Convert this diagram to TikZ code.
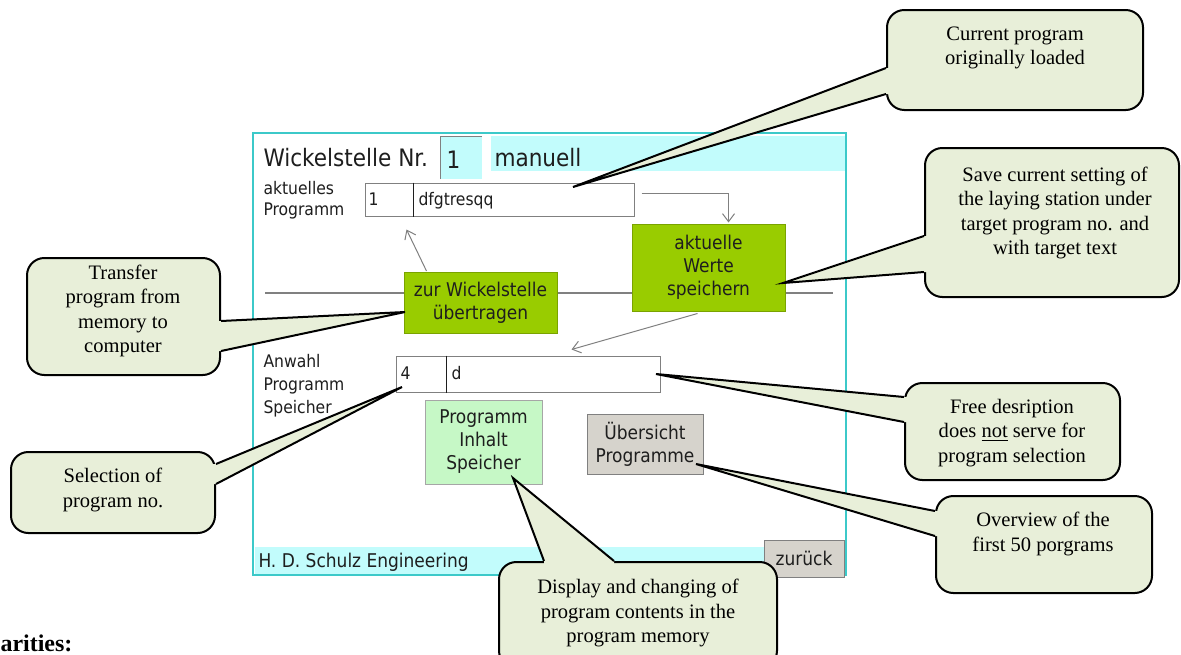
\documentclass[tikz,border=0pt]{standalone}
\usepackage{fontspec}
\setmainfont{Liberation Serif}
\newfontfamily\uifont{DejaVu Sans Condensed}
\usetikzlibrary{positioning,calc,arrows.meta}

\definecolor{calloutfill}{HTML}{E8EFD9}
\definecolor{panelteal}{HTML}{3CC9C9}
\definecolor{bandcyan}{HTML}{C2FCFC}
\definecolor{btngreen}{HTML}{99CC00}
\definecolor{btnlight}{HTML}{C6F8C6}
\definecolor{btngray}{HTML}{D6D3CC}
\definecolor{uigray}{HTML}{808080}
\definecolor{uiink}{HTML}{1E1E1E}

\tikzset{every picture/.style={line width=0.75pt}}
\tikzset{
  boxsize/.style 2 args={minimum width=#1*0.75pt, minimum height=#2*0.75pt},
  callbox/.style={draw=black, line width=1.5pt, fill=calloutfill, rounded corners=13pt, inner sep=0pt},
  calltail/.style={draw=black, line width=1.5pt, line join=miter},
  calltext/.style={font=\fontsize{15.4}{18.4}\selectfont, align=center, inner sep=0pt},
  titletext/.style={font=\uifont\fontsize{18}{21}\selectfont, text=uiink, inner sep=0pt},
  uitext/.style={font=\uifont\fontsize{13}{17}\selectfont, text=uiink, inner sep=0pt},
  field/.style={draw=uigray, fill=white, line width=0.75pt, inner sep=0pt},
  fielddiv/.style={draw=uiink, line width=1.2pt},
  uibtn/.style={align=center, inner sep=0pt, text=uiink, font=\uifont\fontsize{14.2}{17.25}\selectfont},
  greenbtn/.style={uibtn, fill=btngreen, draw=btngreen!80!black},
  lightbtn/.style={uibtn, fill=btnlight, draw=uigray!70},
  graybtn/.style={uibtn, fill=btngray, draw=uigray},
  sepline/.style={draw=uigray, line width=1.5pt},
  flowarrow/.style={draw=uigray, line width=0.75pt, -{Straight Barb[length=6pt,width=9pt]}},
}

\begin{document}
\begin{tikzpicture}[x=0.75pt,y=0.75pt,yscale=-1,xscale=1]
	\clip (0,0) rectangle (1181,654);

	%Screen panel
	\node[boxsize={593}{442}, draw=panelteal, line width=1.5pt, fill=white] (panel) at (549.5,354) {};
	\fill[bandcyan] (491,136) rectangle (845,171);
	\fill[bandcyan] (440,136) rectangle (482,179);
	\draw[uigray] (440,179) -- (440,136) -- (482,136);
	\fill[bandcyan] (255,547) rectangle (845,574);

	% Header texts
	\node[titletext, anchor=base west] (title) at (263,166) {Wickelstelle Nr.};
	\node[titletext, anchor=base west] (stationno) at (446,168) {1};
	\node[titletext, anchor=base west] (modelbl) at (494,166) {manuell};
	\node[uitext, anchor=base west] (aktlbl) at (263,194) {aktuelles};
	\node[uitext, anchor=base west] (proglbl) at (263,215) {Programm};

	%Current program field
	\node[field, boxsize={269}{33}] (progbox) at (499.5,199.5) {};
	\draw[fielddiv] ($(progbox.north west)+(49,0)$) -- ($(progbox.south west)+(49,0)$);
	\node[uitext, anchor=base west] (prognr) at (368,205) {1};
	\node[uitext, anchor=base west] (progname) at (418,205) {dfgtresqq};

	%Separator
	\draw[sepline] (265,293) -- (833,293);

	%Buttons
	\node[greenbtn, boxsize={153}{87}] (savebtn) at (708.5,267.5) {aktuelle\\Werte\\speichern};
	\node[greenbtn, boxsize={153}{61}] (loadbtn) at (480.5,303) {zur Wickelstelle\\übertragen};

	%Selection field
	\node[uitext, anchor=base west] (anwahllbl) at (263,367) {Anwahl};
	\node[uitext, anchor=base west] (selproglbl) at (263,390) {Programm};
	\node[uitext, anchor=base west] (speicherlbl) at (263,413) {Speicher};
	\node[field, boxsize={264}{36}] (selbox) at (528,374) {};
	\draw[fielddiv] ($(selbox.north west)+(51,0)$) -- ($(selbox.south west)+(51,0)$);
	\node[uitext, anchor=base west] (selnr) at (400,379) {4};
	\node[uitext, anchor=base west] (seltext) at (451,379) {d};

	\node[lightbtn, boxsize={117}{84}] (memorybtn) at (483.5,442) {Programm\\Inhalt\\Speicher};
	\node[graybtn, boxsize={116}{60}] (overviewbtn) at (645,444) {Übersicht\\Programme};

	%Footer
	\node[uitext, font=\uifont\fontsize{14.2}{17}\selectfont, anchor=base west] (footer) at (258,567) {H. D. Schulz Engineering};
	\node[graybtn, boxsize={80}{37}] (backbtn) at (804,558.5) {zurück};

	%Flow arrows
	\draw[flowarrow] ($(progbox.north east)+(7,11)$) -| ($(savebtn.north)+(20,-1)$);
	\draw[flowarrow] ($(loadbtn.north west)+(23,-1)$) -- ($(progbox.south west)+(42,13)$);
	\draw[flowarrow] ($(savebtn.south)+(-11,2)$) -- ($(selbox.north west)+(176,-6)$);

	%Callout boxes
	\node[callbox, boxsize={256}{100}] (curcall) at (1015,60) {};
	\node[callbox, boxsize={254}{149}] (savecall) at (1052,222.5) {};
	\node[callbox, boxsize={193}{117}] (xfercall) at (123.5,316.5) {};
	\node[callbox, boxsize={204}{81}] (selcall) at (113,492.5) {};
	\node[callbox, boxsize={215}{97}] (freecall) at (1012.5,431.5) {};
	\node[callbox, boxsize={216}{97}] (ovcall) at (1044,544.5) {};
	\node[callbox, boxsize={278}{106}] (dispcall) at (638,615) {};

	%Callout tips
	\coordinate (curtip) at (573,187);
	\coordinate (savetip) at (783,283);
	\coordinate (xfertip) at (405,312);
	\coordinate (seltip) at (402,387);
	\coordinate (freetip) at (656,374);
	\coordinate (ovtip) at (696,464);
	\coordinate (disptip) at (513,478);

	%Callout tails
	\fill[calloutfill] ($(curcall.north west)+(0,59)$) -- (curtip) -- ($(curcall.north west)+(0,85)$) -- ($(curcall.north west)+(5,85)$) -- ($(curcall.north west)+(5,59)$) -- cycle;
	\draw[calltail] ($(curcall.north west)+(0,59)$) -- (curtip) -- ($(curcall.north west)+(0,85)$);

	\fill[calloutfill] ($(savecall.north west)+(0,89)$) -- (savetip) -- ($(savecall.north west)+(0,125)$) -- ($(savecall.north west)+(5,125)$) -- ($(savecall.north west)+(5,89)$) -- cycle;
	\draw[calltail] ($(savecall.north west)+(0,89)$) -- (savetip) -- ($(savecall.north west)+(0,125)$);

	\fill[calloutfill] ($(xfercall.north east)+(0,64)$) -- (xfertip) -- ($(xfercall.north east)+(0,94)$) -- ($(xfercall.north east)+(-5,94)$) -- ($(xfercall.north east)+(-5,64)$) -- cycle;
	\draw[calltail] ($(xfercall.north east)+(0,64)$) -- (xfertip) -- ($(xfercall.north east)+(0,94)$);

	\fill[calloutfill] ($(selcall.north east)+(0,13)$) -- (seltip) -- ($(selcall.north east)+(0,33)$) -- ($(selcall.north east)+(-5,33)$) -- ($(selcall.north east)+(-5,13)$) -- cycle;
	\draw[calltail] ($(selcall.north east)+(0,13)$) -- (seltip) -- ($(selcall.north east)+(0,33)$);

	\fill[calloutfill] ($(freecall.north west)+(0,15)$) -- (freetip) -- ($(freecall.north west)+(0,40)$) -- ($(freecall.north west)+(5,40)$) -- ($(freecall.north west)+(5,15)$) -- cycle;
	\draw[calltail] ($(freecall.north west)+(0,15)$) -- (freetip) -- ($(freecall.north west)+(0,40)$);

	\fill[calloutfill] ($(ovcall.north west)+(0,16)$) -- (ovtip) -- ($(ovcall.north west)+(0,41)$) -- ($(ovcall.north west)+(5,41)$) -- ($(ovcall.north west)+(5,16)$) -- cycle;
	\draw[calltail] ($(ovcall.north west)+(0,16)$) -- (ovtip) -- ($(ovcall.north west)+(0,41)$);

	\fill[calloutfill] ($(dispcall.north west)+(46,0)$) -- (disptip) -- ($(dispcall.north west)+(116,0)$) -- ($(dispcall.north west)+(116,5)$) -- ($(dispcall.north west)+(46,5)$) -- cycle;
	\draw[calltail] ($(dispcall.north west)+(46,0)$) -- (disptip) -- ($(dispcall.north west)+(116,0)$);

	% Callout texts
	\node[calltext] (curtext) at (1015,48) {Current program\\originally loaded};
	\node[calltext] (savetext) at (1055,213) {Save current setting of\\the laying station under\\target program no. and\\with target text};
	\node[calltext] (xfertext) at (123,311) {Transfer\\program from\\memory to\\computer};
	\node[calltext] (seltext2) at (113,490) {Selection of\\program no.};
	\node[calltext] (freetext) at (1012,433) {Free desription\\does \underline{not} serve for\\program selection};
	\node[calltext] (ovtext) at (1043,534) {Overview of the\\first 50 porgrams};
	\node[calltext] (disptext) at (638,613) {Display and changing of\\program contents in the\\program memory};

	% Heading at the page edge
	\node[font=\bfseries\fontsize{18}{20}\selectfont, anchor=base west, inner sep=0pt] (headlbl) at (0,651) {arities:};

\end{tikzpicture}
\end{document}
